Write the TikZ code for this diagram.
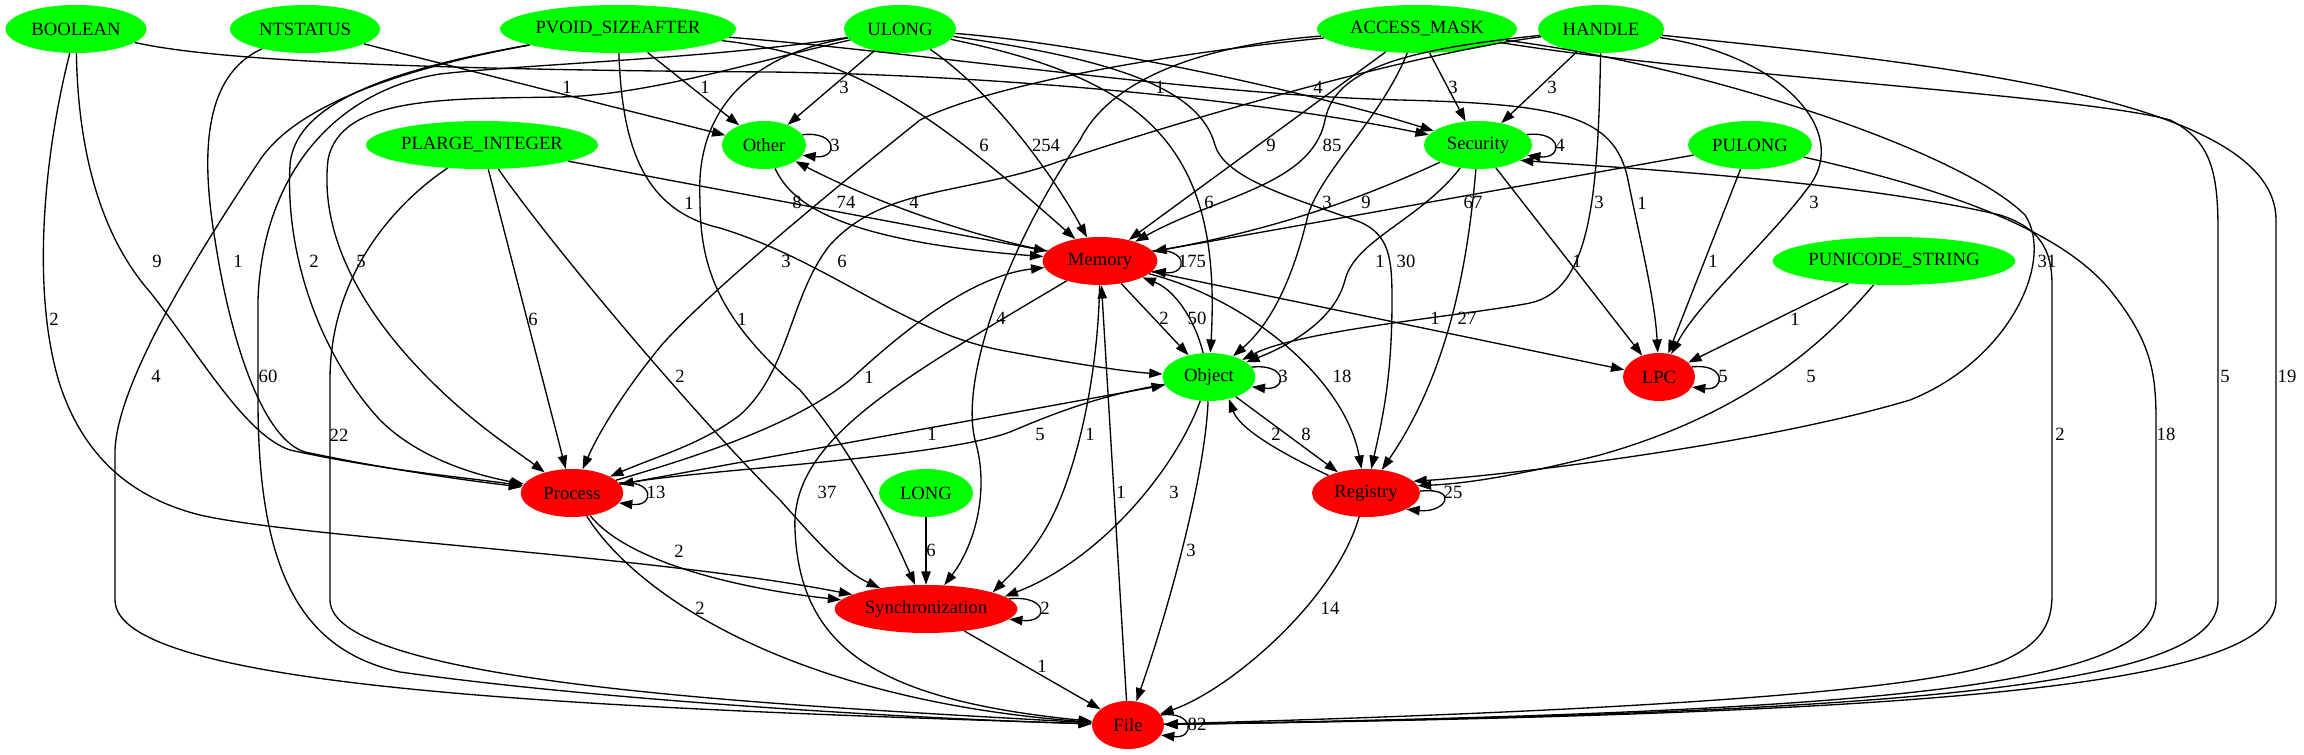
\documentclass[tikz,border=0pt]{standalone}
\usepackage{fontspec}
\setmainfont{Liberation Serif}
\usetikzlibrary{arrows.meta,shapes.geometric}
\definecolor{gvgreen}{RGB}{0,255,0}
\definecolor{gvred}{RGB}{255,0,0}
\newcommand\gvf{\fontsize{14pt}{16pt}\selectfont}
\begin{document}
\begin{tikzpicture}[x=0.75pt,y=-0.75pt,
  gv/.style={ellipse, inner sep=0pt, minimum height=36pt, font=\gvf},
  gn/.style={gv, fill=gvgreen},
  rn/.style={gv, fill=gvred},
  lab/.style={font=\gvf, inner sep=0pt},
  arr/.style={draw=black, line width=1pt, -{Triangle[length=10pt,width=7pt]}}]
\useasboundingbox[fill=white] (0,0) rectangle (2304,755);
% nodes
\node[gn, minimum width=105.75pt] (BOOL) at (76,29) {\makebox[0pt]{BOOLEAN}};
\node[gn, minimum width=112.5pt] (NTS) at (305,29) {\makebox[0pt]{NTSTATUS}};
\node[gn, minimum width=177pt] (PVOID) at (618,29) {\makebox[0pt]{PVOID\_SIZEAFTER}};
\node[gn, minimum width=84pt] (ULONG) at (900,29) {\makebox[0pt]{ULONG}};
\node[gn, minimum width=150pt] (ACC) at (1417,29) {\makebox[0pt]{ACCESS\_MASK}};
\node[gn, minimum width=94.5pt] (HANDLE) at (1601,29) {\makebox[0pt]{HANDLE}};
\node[gn, minimum width=174pt] (PLI) at (482,145) {\makebox[0pt]{PLARGE\_INTEGER}};
\node[gn, minimum width=63pt] (OTHER) at (764,145) {\makebox[0pt]{Other}};
\node[gn, minimum width=81pt] (SEC) at (1478,145) {\makebox[0pt]{Security}};
\node[gn, minimum width=93pt] (PULONG) at (1750,145) {\makebox[0pt]{PULONG}};
\node[rn, minimum width=86.25pt] (MEM) at (1100,261) {\makebox[0pt]{Memory}};
\node[gn, minimum width=182pt] (PUNI) at (1894,261) {\makebox[0pt]{PUNICODE\_STRING}};
\node[gn, minimum width=69.75pt] (OBJ) at (1209,377) {\makebox[0pt]{Object}};
\node[rn, minimum width=54pt] (LPC) at (1659,377) {\makebox[0pt]{LPC}};
\node[rn, minimum width=77pt] (PROC) at (572,493) {\makebox[0pt]{Process}};
\node[gn, minimum width=70.5pt] (LONG) at (926,493) {\makebox[0pt]{LONG}};
\node[rn, minimum width=81pt] (REG) at (1366,493) {\makebox[0pt]{Registry}};
\node[rn, minimum width=137pt] (SYNC) at (926,609) {\makebox[0pt]{Synchronization}};
\node[rn, minimum width=54pt] (FILE) at (1128,725) {\makebox[0pt]{File}};
% edges to Other
\draw[arr] (NTS) -- (OTHER);
\draw[arr] (PVOID) -- (OTHER);
\draw[arr] (ULONG) -- (OTHER);
\draw[arr] (OTHER.15) .. controls +(36,-4) and +(36,4) .. (OTHER.-15);
% to Security
\draw[arr] (BOOL) .. controls (220,62) and (450,70) .. (770,72) .. controls (1000,75) and (1260,100) .. (SEC);
\draw[arr] (ULONG) .. controls (1100,45) and (1320,95) .. (SEC);
\draw[arr] (ACC) -- (SEC);
\draw[arr] (HANDLE) -- (SEC);
\draw[arr] (SEC.12) .. controls +(36,-4) and +(36,4) .. (SEC.-12);
% to Memory
\draw[arr] (ULONG) .. controls (990,90) and (1050,170) .. (MEM);
\draw[arr] (PVOID) .. controls (850,55) and (930,110) .. (MEM);
\draw[arr] (ACC) -- (MEM);
\draw[arr] (HANDLE) .. controls (1400,50) and (1335,70) .. (1325,120) .. controls (1312,185) and (1220,195) .. (MEM);
\draw[arr] (PLI) -- (MEM);
\draw[arr] (OTHER) .. controls (790,200) and (830,240) .. (MEM);
\draw[arr] (MEM) .. controls (980,238) and (880,205) .. (OTHER);
% to Object
\draw[arr] (PVOID) .. controls (622,140) and (640,210) .. (720,228) .. controls (830,262) and (900,330) .. (1000,350) .. controls (1080,365) and (1130,372) .. (OBJ);
\draw[arr] (ULONG) .. controls (1150,80) and (1222,150) .. (OBJ);
\draw[arr] (ACC) .. controls (1380,120) and (1322,170) .. (1308,215) .. controls (1295,270) and (1275,320) .. (OBJ);
\draw[arr] (HANDLE) .. controls (1598,200) and (1590,290) .. (1530,303) .. controls (1470,315) and (1300,330) .. (OBJ);
\draw[arr] (SEC) .. controls (1390,185) and (1300,225) .. (MEM);
\draw[arr] (PULONG) -- (MEM);
% to LPC
\draw[arr] (PVOID) .. controls (900,50) and (1200,95) .. (1400,100) .. controls (1560,104) and (1615,115) .. (1628,180) .. controls (1640,240) and (1655,300) .. (LPC);
\draw[arr] (HANDLE) .. controls (1780,55) and (1850,130) .. (1810,185) .. controls (1770,240) and (1700,300) .. (LPC);
\draw[arr] (SEC) .. controls (1420,220) and (1355,240) .. (1345,280) .. controls (1335,320) and (1290,345) .. (OBJ);
\draw[arr] (ULONG) .. controls (1120,60) and (1200,90) .. (1215,145) .. controls (1225,180) and (1300,200) .. (1360,222) .. controls (1390,235) and (1392,260) .. (1392,300) .. controls (1392,380) and (1382,420) .. (REG);
\draw[arr] (SEC) .. controls (1468,260) and (1450,370) .. (REG);
\draw[arr] (SEC) -- (LPC);
\draw[arr] (PULONG) -- (LPC);
\draw[arr] (MEM) -- (LPC);
\draw[arr] (PUNI) -- (LPC);
\draw[arr] (PUNI) .. controls (1835,330) and (1760,410) .. (1600,455) .. controls (1500,480) and (1455,484) .. (REG.8);
\draw[arr] (ACC) .. controls (1700,65) and (1960,150) .. (2025,215) .. controls (2055,260) and (2010,360) .. (1910,400) .. controls (1760,445) and (1500,476) .. (REG.14);
\draw[arr] (REG.2) .. controls +(40,-4) and +(40,4) .. (REG.-22);
% right side to / from File
\draw[arr] (FILE) .. controls (1450,716) and (1900,700) .. (2000,662) .. controls (2040,645) and (2052,625) .. (2052,595) -- (2052,285) .. controls (2052,250) and (2040,228) .. (2000,215) .. controls (1850,180) and (1620,168) .. (SEC.-20);
\draw[arr] (HANDLE) .. controls (1950,65) and (2276,100) .. (2276,220) -- (2276,600) .. controls (2276,690) and (1900,714) .. (FILE);
\draw[arr] (ACC) .. controls (1700,75) and (2080,95) .. (2170,120) .. controls (2210,140) and (2218,170) .. (2218,230) -- (2218,600) .. controls (2218,688) and (1900,713) .. (FILE);
\draw[arr] (PULONG) .. controls (1950,190) and (2060,230) .. (2110,290) .. controls (2150,340) and (2156,370) .. (2156,420) -- (2156,600) .. controls (2156,685) and (1900,712) .. (FILE);
% left side to File
\draw[arr] (PVOID) .. controls (420,65) and (300,100) .. (260,160) .. controls (200,250) and (118,380) .. (115,450) -- (115,600) .. controls (115,690) and (600,708) .. (FILE);
\draw[arr] (ULONG) .. controls (720,58) and (530,64) .. (440,74) .. controls (330,92) and (262,180) .. (258,300) -- (258,400) .. controls (258,570) and (300,650) .. (400,672) .. controls (600,700) and (900,718) .. (FILE);
\draw[arr] (PLI) .. controls (400,200) and (330,270) .. (330,380) -- (330,600) .. controls (330,685) and (800,706) .. (FILE);
\draw[arr] (MEM) .. controls (900,380) and (790,440) .. (795,530) .. controls (800,650) and (880,700) .. (FILE);
\draw[arr] (PROC) .. controls (640,600) and (800,700) .. (FILE);
\draw[arr] (SYNC) -- (FILE);
\draw[arr] (OBJ) .. controls (1205,480) and (1165,620) .. (FILE);
\draw[arr] (REG) .. controls (1335,600) and (1230,690) .. (FILE);
\draw[arr] (FILE) -- (MEM);
\draw[arr] (FILE.17) .. controls +(34,-4) and +(34,4) .. (FILE.-17);
% middle
\draw[arr] (MEM) .. controls (1098,380) and (1075,480) .. (1045,530) .. controls (1030,555) and (1015,570) .. (SYNC.14);
\draw[arr] (OBJ) .. controls (1175,470) and (1100,560) .. (SYNC.9);
\draw[arr] (OBJ) -- (REG);
\draw[arr] (REG) .. controls (1285,455) and (1240,430) .. (OBJ.-48);
\draw[arr] (MEM) -- (OBJ);
\draw[arr] (OBJ) .. controls (1195,320) and (1175,290) .. (MEM);
\draw[arr] (MEM) .. controls (1250,300) and (1345,380) .. (REG);
\draw[arr] (MEM.11) .. controls +(36,-4) and +(36,4) .. (MEM.-11);
\draw[arr] (OBJ.13) .. controls +(36,-4) and +(36,4) .. (OBJ.-13);
\draw[arr] (LPC.17) .. controls +(34,-4) and +(34,4) .. (LPC.-17);
\draw[arr] (PROC.12) .. controls +(36,-4) and +(36,4) .. (PROC.-12);
\draw[arr] (SYNC.7) .. controls +(40,-4) and +(40,4) .. (SYNC.-7);
% to Process
\draw[arr] (BOOL) .. controls (78,150) and (100,235) .. (150,292) .. controls (200,355) and (245,435) .. (290,450) .. controls (380,470) and (470,478) .. (PROC);
\draw[arr] (NTS) .. controls (205,75) and (200,150) .. (215,240) .. controls (232,350) and (265,440) .. (305,452) .. controls (400,472) and (480,482) .. (PROC);
\draw[arr] (PVOID) .. controls (400,68) and (295,100) .. (290,165) .. controls (285,255) and (320,355) .. (380,420) .. controls (420,460) and (480,476) .. (PROC);
\draw[arr] (ULONG) .. controls (760,60) and (650,95) .. (560,97) .. controls (450,99) and (340,95) .. (328,160) .. controls (318,250) and (380,330) .. (430,380) .. controls (475,425) and (515,450) .. (PROC);
\draw[arr] (PLI) -- (PROC);
\draw[arr] (ACC) .. controls (1200,50) and (1000,80) .. (920,120) .. controls (820,200) and (700,300) .. (660,347) .. controls (625,390) and (600,430) .. (PROC);
\draw[arr] (HANDLE) .. controls (1400,55) and (1150,130) .. (1040,168) .. controls (950,195) and (880,190) .. (830,245) .. controls (790,295) and (790,370) .. (740,415) .. controls (700,445) and (660,455) .. (PROC);
\draw[arr] (PROC) .. controls (720,450) and (800,420) .. (850,380) .. controls (920,315) and (980,275) .. (MEM);
\draw[arr] (PROC) -- (OBJ);
\draw[arr] (OBJ) .. controls (1100,395) and (1050,415) .. (1010,432) .. controls (940,458) and (700,470) .. (PROC);
% to Synchronization
\draw[arr] (PROC) .. controls (630,565) and (750,590) .. (SYNC);
\draw[arr] (BOOL) .. controls (45,150) and (30,290) .. (60,385) .. controls (80,445) and (120,495) .. (200,515) .. controls (300,538) and (650,555) .. (SYNC);
\draw[arr] (PLI) .. controls (540,230) and (680,400) .. (780,500) .. controls (820,545) and (845,572) .. (SYNC);
\draw[arr] (ULONG) .. controls (750,55) and (695,110) .. (700,200) .. controls (700,270) and (720,320) .. (800,390) .. controls (860,460) and (895,540) .. (SYNC);
\draw[arr] (ACC) .. controls (1200,45) and (1110,80) .. (1080,140) .. controls (1005,250) and (960,380) .. (975,440) .. controls (990,490) and (975,545) .. (SYNC);
\draw[arr] (LONG) -- (SYNC);
% labels
\node[lab] (e01) at (567,87) {1};
\node[lab] (e02) at (705,87) {1};
\node[lab] (e03) at (844,87) {3};
\node[lab] (e04) at (1160,87) {1};
\node[lab] (e05) at (1318,87) {4};
\node[lab] (e06) at (1453,87) {3};
\node[lab] (e07) at (1552,87) {3};
\node[lab] (e08) at (835,145) {3};
\node[lab] (e09) at (984,145) {6};
\node[lab] (e10) at (1046,145) {254};
\node[lab] (e11) at (1271,145) {9};
\node[lab] (e12) at (1332,145) {85};
\node[lab] (e13) at (1560,145) {4};
\node[lab] (e14) at (689,203) {1};
\node[lab] (e15) at (797,202) {8};
\node[lab] (e16) at (846,202) {74};
\node[lab] (e17) at (914,202) {4};
\node[lab] (e18) at (1209,202) {6};
\node[lab] (e19) at (1327,202) {3};
\node[lab] (e20) at (1366,202) {9};
\node[lab] (e21) at (1473,202) {67};
\node[lab] (e22) at (1599,202) {3};
\node[lab] (e23) at (1642,203) {1};
\node[lab] (e24) at (1814,202) {3};
\node[lab] (e25) at (157,261) {9};
\node[lab] (e26) at (238,261) {1};
\node[lab] (e27) at (314,261) {2};
\node[lab] (e28) at (361,261) {5};
\node[lab] (e29) at (786,261) {3};
\node[lab] (e30) at (842,261) {6};
\node[lab] (e31) at (1192,261) {175};
\node[lab] (e32) at (1380,261) {1};
\node[lab] (e33) at (1406,261) {30};
\node[lab] (e34) at (1577,261) {1};
\node[lab] (e35) at (1713,261) {1};
\node[lab] (e36) at (2047,261) {31};
\node[lab] (e37) at (54,319) {2};
\node[lab] (e38) at (533,319) {6};
\node[lab] (e39) at (742,319) {1};
\node[lab] (e40) at (1001,318) {4};
\node[lab] (e41) at (1164,318) {2};
\node[lab] (e42) at (1197,318) {50};
\node[lab] (e43) at (1435,318) {1};
\node[lab] (e44) at (1467,318) {27};
\node[lab] (e45) at (1795,319) {1};
\node[lab] (e46) at (156,376) {4};
\node[lab] (e47) at (268,376) {60};
\node[lab] (e48) at (680,376) {2};
\node[lab] (e49) at (869,377) {1};
\node[lab] (e50) at (1283,376) {3};
\node[lab] (e51) at (1342,376) {18};
\node[lab] (e52) at (1723,376) {5};
\node[lab] (e53) at (1811,376) {5};
\node[lab] (e54) at (2225,376) {5};
\node[lab] (e55) at (2287,376) {19};
\node[lab] (e56) at (339,435) {22};
\node[lab] (e57) at (932,434) {1};
\node[lab] (e58) at (1040,434) {5};
\node[lab] (e59) at (1090,434) {1};
\node[lab] (e60) at (1276,434) {2};
\node[lab] (e61) at (1306,434) {8};
\node[lab] (e62) at (2060,434) {2};
\node[lab] (e63) at (2166,434) {18};
\node[lab] (e64) at (656,492) {13};
\node[lab] (e65) at (827,492) {37};
\node[lab] (e66) at (1121,492) {1};
\node[lab] (e67) at (1174,492) {3};
\node[lab] (e68) at (1453,492) {25};
\node[lab] (e69) at (679,551) {2};
\node[lab] (e70) at (931,550) {6};
\node[lab] (e71) at (1191,550) {3};
\node[lab] (e72) at (1045,608) {2};
\node[lab] (e73) at (700,608) {2};
\node[lab] (e74) at (1330,608) {14};
\node[lab] (e75) at (1042,666) {1};
\node[lab] (e76) at (1197,724) {82};
\end{tikzpicture}
\end{document}
